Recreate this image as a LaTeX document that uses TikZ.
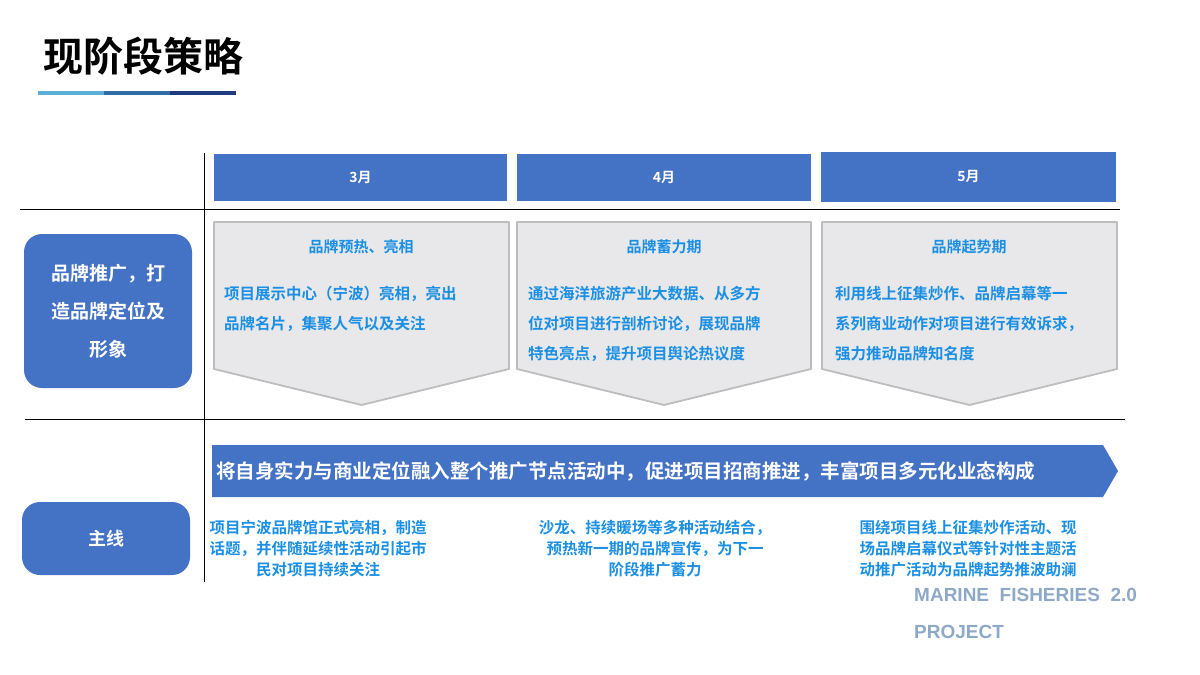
\documentclass[tikz,border=0pt]{standalone}
\usepackage{fontspec}
\setmainfont{Noto Sans CJK SC}[BoldFont={* Bold}]
\newfontfamily\cjkb{Noto Sans CJK SC Bold}
\newfontfamily\latb{Liberation Sans Bold}
\definecolor{mblue}{HTML}{4472C4}
\definecolor{tblue}{HTML}{1A8FE3}
\definecolor{gfill}{HTML}{E8E8EA}
\definecolor{gline}{HTML}{BDBDBD}
\definecolor{mgrey}{HTML}{8EA9C8}
\definecolor{ul1}{HTML}{5BB0D6}
\definecolor{ul2}{HTML}{2F6CA8}
\definecolor{ul3}{HTML}{1F3A7E}
\begin{document}
\begin{tikzpicture}[x=1pt,y=-1pt,
  month/.style={fill=mblue,draw=none,minimum height=47pt,text=white,font=\cjkb\fontsize{14}{14}\selectfont},
  chev/.style={fill=gfill,draw=gline,line width=1.8pt,line join=round},
  ctitle/.style={text=tblue,font=\cjkb\fontsize{15}{15}\selectfont},
  cbody/.style={text=tblue,font=\cjkb\fontsize{15.5}{30}\selectfont,align=left,anchor=north west,inner sep=0},
  bot/.style={text=tblue,font=\cjkb\fontsize{15.5}{21}\selectfont,align=center,inner sep=0},
  side/.style={fill=mblue,rounded corners=18pt,text=white,font=\cjkb\fontsize{19}{38}\selectfont,align=center}]
\useasboundingbox (0,0) rectangle (1200,675);
\node[anchor=west,font=\cjkb\fontsize{40}{40}\selectfont,inner sep=0] (title) at (43,56) {现阶段策略};
\fill[ul1] (38,91) rectangle (104,95);
\fill[ul2] (104,91) rectangle (170,95);
\fill[ul3] (170,91) rectangle (236,95);
\draw[line width=1pt] (204,153) -- (204,582);
\draw[line width=1pt] (20,209) -- (1120,209);
\draw[line width=1pt] (25,419) -- (1125,419);
\node[month,minimum width=293pt] (m3) at (360.5,177.5) {3月};
\node[month,minimum width=294pt] (m4) at (664,177.5) {4月};
\node[month,minimum width=295pt,minimum height=50pt] (m5) at (968.5,177) {5月};
\foreach \a/\b in {214/509,517/811,822/1117}{
  \draw[chev] (\a,222) -- (\b,222) -- (\b,369) -- ({(\a+\b)/2},405) -- (\a,369) -- cycle;}
\node[ctitle] (t3) at (361,247) {品牌预热、亮相};
\node[ctitle] (t4) at (664,247) {品牌蓄力期};
\node[ctitle] (t5) at (969,247) {品牌起势期};
\node[cbody] (b3) at (224,286) {项目展示中心（宁波）亮相，亮出\\品牌名片，集聚人气以及关注};
\node[cbody] (b4) at (528,286) {通过海洋旅游产业大数据、从多方\\位对项目进行剖析讨论，展现品牌\\特色亮点，提升项目舆论热议度};
\node[cbody] (b5) at (835,286) {利用线上征集炒作、品牌启幕等一\\系列商业动作对项目进行有效诉求，\\强力推动品牌知名度};
\node[side,minimum width=168pt,minimum height=154pt] (s1) at (108,311) {品牌推广，打\\造品牌定位及\\形象};
\node[side,minimum width=168pt,minimum height=73pt,font=\cjkb\fontsize{18}{18}\selectfont] (s2) at (106,538.5) {主线};
\fill[mblue] (212,445) -- (1103,445) -- (1118,471) -- (1103,497) -- (212,497) -- cycle;
\node[text=white,font=\cjkb\fontsize{19.5}{20}\selectfont,anchor=west,inner sep=0] (arr) at (216,471) {将自身实力与商业定位融入整个推广节点活动中，促进项目招商推进，丰富项目多元化业态构成};
\node[bot] (l1) at (318,549) {项目宁波品牌馆正式亮相，制造\\话题，并伴随延续性活动引起市\\民对项目持续关注};
\node[bot] (l2) at (655,549) {沙龙、持续暖场等多种活动结合，\\预热新一期的品牌宣传，为下一\\阶段推广蓄力};
\node[bot] (l3) at (968,549) {围绕项目线上征集炒作活动、现\\场品牌启幕仪式等针对性主题活\\动推广活动为品牌起势推波助澜};
\node[anchor=west,text=mgrey,font=\latb\fontsize{19}{19}\selectfont,inner sep=0] (mf) at (914,595) {MARINE\ \ FISHERIES\ \ 2.0};
\node[anchor=west,text=mgrey,font=\latb\fontsize{19}{19}\selectfont,inner sep=0] (pj) at (914,632) {PROJECT};
\end{tikzpicture}
\end{document}
